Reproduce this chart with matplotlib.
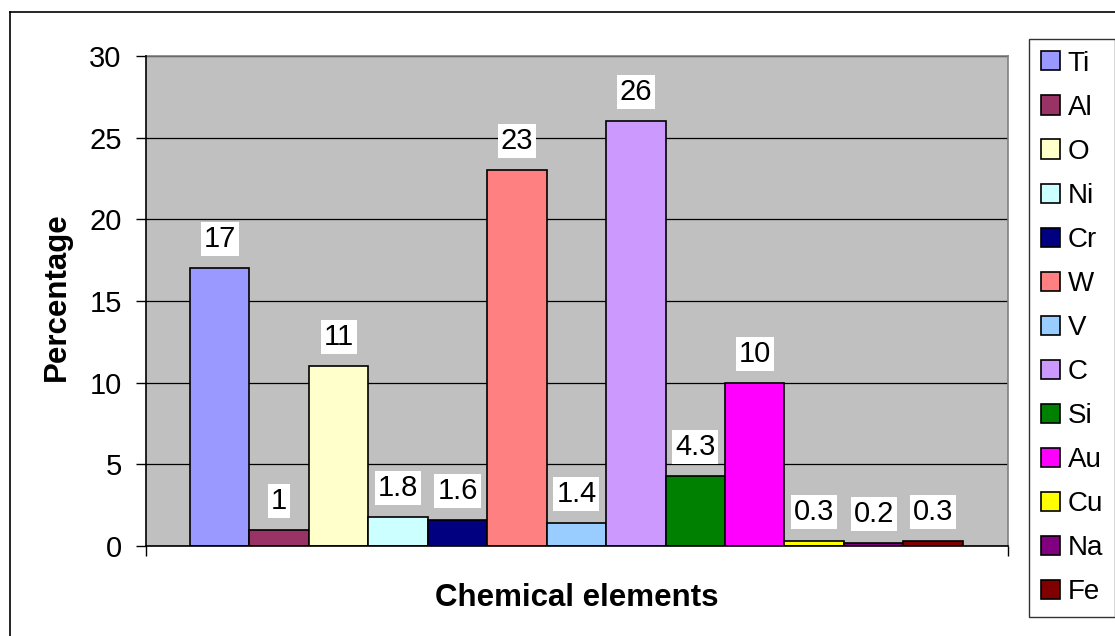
import matplotlib
matplotlib.use("Agg")
import matplotlib.pyplot as plt
from matplotlib.lines import Line2D

plt.rcParams['font.family'] = ['Liberation Sans', 'DejaVu Sans']

elements = ["Ti", "Al", "O", "Ni", "Cr", "W", "V", "C", "Si", "Au", "Cu", "Na", "Fe"]
percentages = [17, 1, 11, 1.8, 1.6, 23, 1.4, 26, 4.3, 10, 0.3, 0.2, 0.3]
value_labels = ["17", "1", "11", "1.8", "1.6", "23", "1.4", "26", "4.3", "10", "0.3", "0.2", "0.3"]
colors = ["#9999FF", "#993366", "#FFFFCC", "#CCFFFF", "#000080", "#FF8080", "#99CCFF",
          "#CC99FF", "#008000", "#FF00FF", "#FFFF00", "#800080", "#800000"]
y_ticks = [0, 5, 10, 15, 20, 25, 30]

W, H = 1115, 636
fig = plt.figure(figsize=(W / 100, H / 100), dpi=100)

# plot area in pixel terms
left, right, top, bottom = 146, 1008, 56, 546
ax = fig.add_axes([left / W, 1 - bottom / H, (right - left) / W, (bottom - top) / H])
ax.set_facecolor("#C0C0C0")

n = len(elements)
positions = [i - (n - 1) / 2 for i in range(n)]
for pos, val, col, name in zip(positions, percentages, colors, elements):
    ax.bar(pos, val, width=1.0, color=col, edgecolor="black", linewidth=1.2,
           label=name, zorder=3)

for pos, val, txt in zip(positions, percentages, value_labels):
    ax.annotate(txt, xy=(pos, val), xytext=(0, 29), textcoords="offset pixels",
                ha="center", va="center", fontsize=21, zorder=5,
                bbox=dict(boxstyle="square,pad=0.1", facecolor="white", edgecolor="none"))

ax.set_ylim(0, 30)
ax.set_xlim(-6.5 - 0.74, 6.5 + 0.76)
ax.set_yticks(y_ticks)
ax.set_yticklabels([str(t) for t in y_ticks], fontsize=21)
ax.tick_params(axis="y", direction="out", length=7, width=1, pad=10.5, color="black")
ax.set_xticks([ax.get_xlim()[0], ax.get_xlim()[1]])
ax.set_xticklabels([])
ax.tick_params(axis="x", direction="out", length=7, width=1, color="black")

ax.grid(axis="y", color="black", linewidth=0.9, zorder=1)
ax.set_axisbelow(True)
for side in ("top", "right"):
    ax.spines[side].set_color("#808080")
    ax.spines[side].set_linewidth(1.2)
for side in ("left", "bottom"):
    ax.spines[side].set_color("black")
    ax.spines[side].set_linewidth(1.2)
    ax.spines[side].set_zorder(4)

fig.text(57 / W, 1 - 297 / H, "Percentage", rotation=90, ha="center", va="center",
         fontsize=22.5, fontweight="bold")
fig.text(577 / W, 1 - 598 / H, "Chemical elements", ha="center", va="center",
         fontsize=22.5, fontweight="bold")

leg = fig.legend(loc="upper left", bbox_to_anchor=(1029 / W, 1 - 39 / H),
                 bbox_transform=fig.transFigure, fontsize=20, frameon=True,
                 fancybox=False, handlelength=0.68, handleheight=0.68,
                 handletextpad=0.29, labelspacing=0.65, borderpad=0.42,
                 borderaxespad=0)
leg.get_frame().set_edgecolor("black")
leg.get_frame().set_linewidth(1.0)

# outer chart border
fig.add_artist(Line2D([10 / W, 1], [1 - 12 / H, 1 - 12 / H], color="black",
                      linewidth=1.2, transform=fig.transFigure))
fig.add_artist(Line2D([10 / W, 10 / W], [0, 1 - 12 / H], color="black",
                      linewidth=1.2, transform=fig.transFigure))

fig.savefig("out.png", dpi=100)
